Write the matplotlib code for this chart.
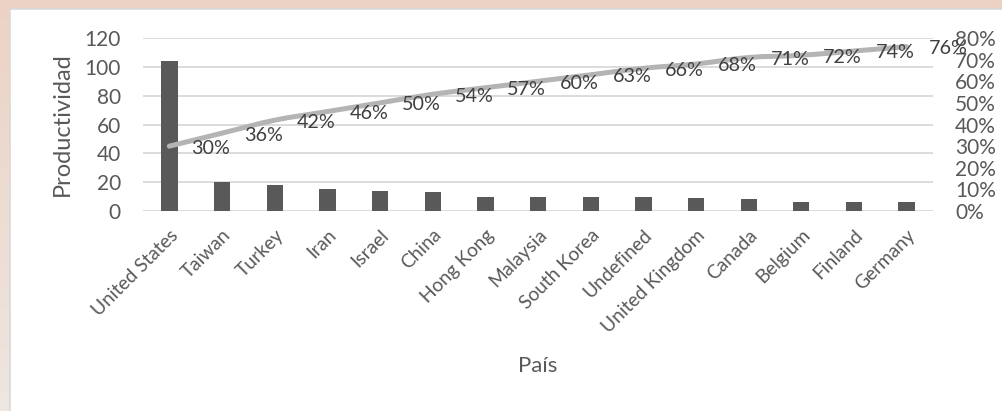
import numpy as np
import matplotlib.pyplot as plt
from matplotlib.patches import Rectangle, PathPatch
from matplotlib.path import Path
from matplotlib.ticker import MultipleLocator, PercentFormatter

# datos por país
paises = ['United States', 'Taiwan', 'Turkey', 'Iran', 'Israel', 'China',
          'Hong Kong', 'Malaysia', 'South Korea', 'Undefined', 'United Kingdom',
          'Canada', 'Belgium', 'Finland', 'Germany']
productividad = [104, 20, 18, 15, 14, 13, 10, 10, 10, 10, 9, 8, 6, 6, 6]
acumulado = [30, 36, 42, 46, 50, 54, 57, 60, 63, 66, 68, 71, 72, 74, 76]  # %

plt.rcParams['font.family'] = ['Lato', 'DejaVu Sans']
gris_texto = '#595959'


def linea_suave(xs, ys):
    """Path bezier que pasa por todos los puntos (estilo línea suavizada)."""
    pts = np.column_stack([xs, ys]).astype(float)
    ext = np.vstack([pts[0], pts, pts[-1]])
    verts = [pts[0]]
    codes = [Path.MOVETO]
    for i in range(len(pts) - 1):
        p0, p1, p2, p3 = ext[i], ext[i + 1], ext[i + 2], ext[i + 3]
        verts += [p1 + (p2 - p0) / 6, p2 - (p3 - p1) / 6, p2]
        codes += [Path.CURVE4] * 3
    return Path(verts, codes)


fig = plt.figure(figsize=(10.03, 4.11), dpi=100)

# fondo con degradado suave y panel blanco
fondo = fig.add_axes([0, 0, 1, 1], zorder=-10)
grad = np.linspace(0, 1, 256).reshape(-1, 1)
colores = np.array([[236, 210, 196], [238, 230, 224]]) / 255.0
img = colores[0] * (1 - grad[..., None]) + colores[1] * grad[..., None]
fondo.imshow(img, aspect='auto', extent=[0, 1, 0, 1])
fondo.add_patch(Rectangle((10 / 1003, -0.01), 1.0, 1 - 9 / 411 + 0.01,
                          facecolor='white', edgecolor='#d9d9d9', lw=1.2))
fondo.set_xlim(0, 1)
fondo.set_ylim(0, 1)
fondo.axis('off')

ax = fig.add_axes([0.1426, 0.4866, 0.7876, 0.4209])
x = np.arange(len(paises))
ax.bar(x, productividad, width=0.31, color='#595959', zorder=3)
ax.set_xlim(-0.5, len(paises) - 0.5)
ax.set_ylim(0, 120)
ax.yaxis.set_major_locator(MultipleLocator(20))
ax.grid(axis='y', color='#d9d9d9', lw=1.3, zorder=0)
for s in ax.spines.values():
    s.set_visible(False)
ax.set_facecolor('none')
ax.tick_params(axis='both', length=0, colors=gris_texto, labelsize=15)
ax.tick_params(axis='y', pad=16)
ax.tick_params(axis='x', pad=11)
ax.set_xticks(x)
ax.set_xticklabels(paises, rotation=45, ha='right', rotation_mode='anchor',
                   fontsize=13.8)
ax.set_ylabel('Productividad', fontsize=17, color=gris_texto, labelpad=8)
ax.set_xlabel('País', fontsize=16, color=gris_texto, labelpad=15)

# curva acumulada en el eje secundario
ax2 = ax.twinx()
pct = np.array(acumulado) / 100
ax2.add_patch(PathPatch(linea_suave(x, pct), facecolor='none',
                        edgecolor='#b4b4b4', lw=3.6, capstyle='round',
                        zorder=4))
ax2.set_ylim(0, 0.8)
ax2.yaxis.set_major_locator(MultipleLocator(0.1))
ax2.yaxis.set_major_formatter(PercentFormatter(1.0, decimals=0))
for s in ax2.spines.values():
    s.set_visible(False)
ax2.tick_params(axis='y', length=0, colors=gris_texto, labelsize=15, pad=16)
for xi, v in zip(x, acumulado):
    ax2.annotate(f'{v}%', (xi, v / 100), xytext=(22, -2),
                 textcoords='offset pixels', ha='left', va='center',
                 fontsize=14.2, color='#404040', zorder=5)

fig.savefig('out.png', dpi=100)
